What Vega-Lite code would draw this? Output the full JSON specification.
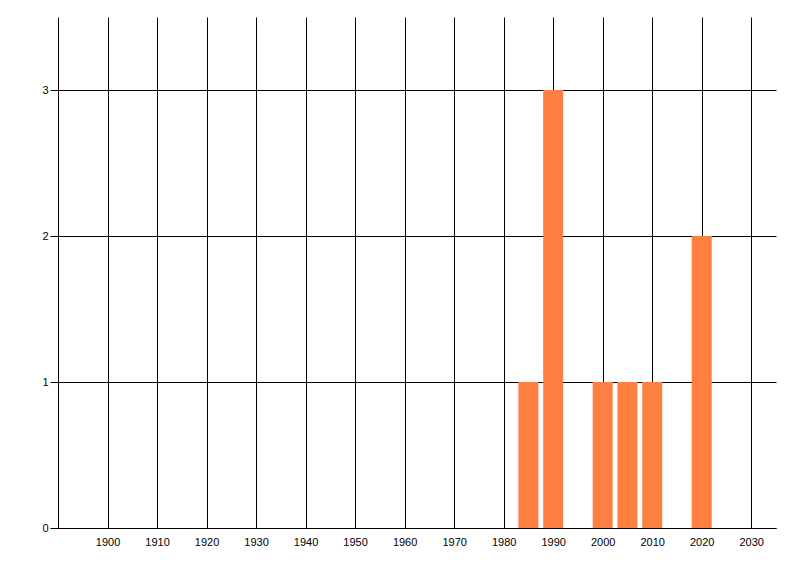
{
  "$schema": "https://vega.github.io/schema/vega-lite/v6.json",
  "width": 718,
  "height": 511,
  "autosize": {"type": "none"},
  "padding": {"left": 58, "top": 17, "right": 24, "bottom": 48},
  "background": "white",
  "config": {
    "view": {"stroke": null},
    "axis": {
      "labelFont": "Liberation Sans",
      "labelFontSize": 11,
      "labelColor": "#000000",
      "domainColor": "#000000",
      "domainWidth": 1,
      "gridColor": "#000000",
      "gridOpacity": 1,
      "gridWidth": 1,
      "tickColor": "#000000",
      "title": null
    }
  },
  "data": {
    "values": [
      {"year": 1985, "count": 1},
      {"year": 1990, "count": 3},
      {"year": 2000, "count": 1},
      {"year": 2005, "count": 1},
      {"year": 2010, "count": 1},
      {"year": 2020, "count": 2}
    ]
  },
  "mark": {"type": "bar", "size": 20, "color": "#ff7f40"},
  "encoding": {
    "x": {
      "field": "year",
      "type": "quantitative",
      "scale": {"domain": [1890, 2035], "nice": false, "zero": false, "padding": 0},
      "axis": {
        "values": [1900, 1910, 1920, 1930, 1940, 1950, 1960, 1970, 1980, 1990, 2000, 2010, 2020, 2030],
        "format": "d",
        "grid": true,
        "ticks": false,
        "labelPadding": 8
      }
    },
    "y": {
      "field": "count",
      "type": "quantitative",
      "scale": {"domain": [0, 3.5], "nice": false},
      "axis": {
        "values": [0, 1, 2, 3],
        "format": "d",
        "grid": true,
        "ticks": true,
        "tickSize": 8,
        "labelPadding": 2
      }
    }
  }
}
